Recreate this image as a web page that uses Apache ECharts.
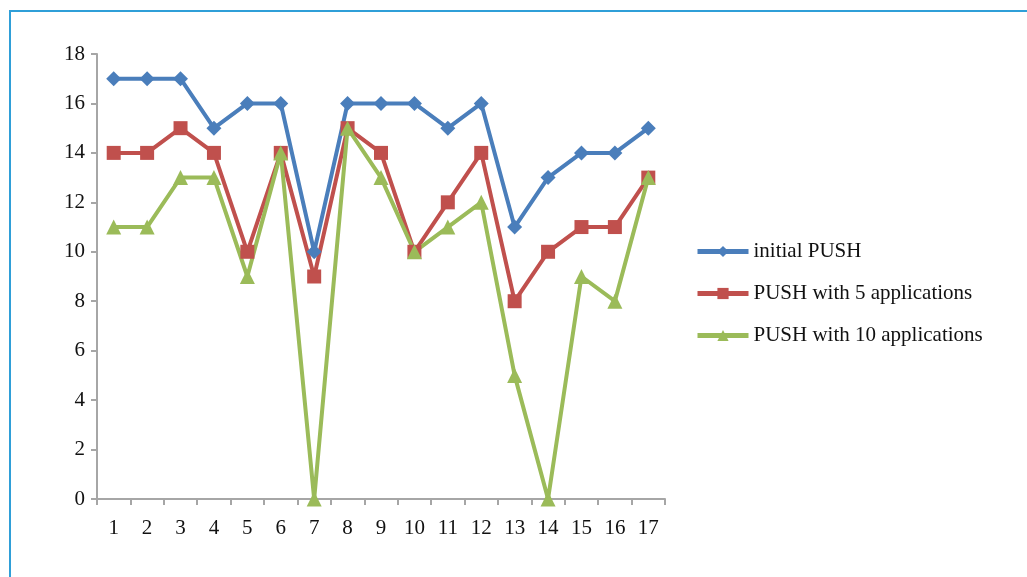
<!DOCTYPE html>
<html>
<head>
<meta charset="utf-8">
<script src="https://cdn.jsdelivr.net/npm/echarts@6/dist/echarts.min.js"></script>
<style>
  html, body { margin: 0; padding: 0; background: #fff; overflow: hidden; }
  #frame { position: absolute; left: 9px; top: 10px; width: 1100px; height: 700px;
           border-left: 2px solid #2f9fd8; border-top: 2px solid #2f9fd8; }
  #chart { position: absolute; left: 0; top: 0; width: 1027px; height: 577px; }
</style>
</head>
<body>
<div id="frame"></div>
<div id="chart"></div>
<script>
// Categories 1..17 and the three PUSH series
const categories = ['1','2','3','4','5','6','7','8','9','10','11','12','13','14','15','16','17'];
const initialPush = [17, 17, 17, 15, 16, 16, 10, 16, 16, 16, 15, 16, 11, 13, 14, 14, 15];
const push5Apps   = [14, 14, 15, 14, 10, 14, 9, 15, 14, 10, 12, 14, 8, 10, 11, 11, 13];
const push10Apps  = [11, 11, 13, 13, 9, 14, 0, 15, 13, 10, 11, 12, 5, 0, 9, 8, 13];
const seriesNames = ['initial PUSH', 'PUSH with 5 applications', 'PUSH with 10 applications'];

const font = 'Liberation Serif, Times New Roman, serif';
const axisGray = '#a6a6a6';

const chart = echarts.init(document.getElementById('chart'), null, { renderer: 'canvas' });

function lineSeries(name, data, color, symbol, size) {
  return {
    name, type: 'line', data,
    symbol, symbolSize: size,
    lineStyle: { color, width: 4 },
    itemStyle: { color },
    animation: false
  };
}

chart.setOption({
  backgroundColor: 'transparent',
  grid: { left: 97, top: 54, right: 362, bottom: 78, containLabel: false },
  legend: {
    orient: 'vertical',
    left: 695, top: 241,
    padding: 0,
    itemWidth: 51, itemHeight: 14, itemGap: 21,
    lineStyle: { width: 5 },
    textStyle: { fontFamily: font, fontSize: 21, color: '#111' },
    data: seriesNames
  },
  xAxis: {
    type: 'category',
    data: categories,
    boundaryGap: true,
    axisLine: { lineStyle: { color: axisGray, width: 2 } },
    axisTick: { show: true, length: 6, lineStyle: { color: axisGray, width: 2 } },
    axisLabel: { fontFamily: font, fontSize: 21, color: '#111', margin: 19 },
    splitLine: { show: false }
  },
  yAxis: {
    type: 'value',
    min: 0, max: 18, interval: 2,
    axisLine: { show: true, lineStyle: { color: axisGray, width: 2 } },
    axisTick: { show: true, length: 6, lineStyle: { color: axisGray, width: 2 } },
    axisLabel: { fontFamily: font, fontSize: 21, color: '#111', margin: 12 },
    splitLine: { show: false }
  },
  series: [
    lineSeries(seriesNames[0], initialPush, '#4a7ebb', 'diamond', 15),
    lineSeries(seriesNames[1], push5Apps, '#c0504d', 'rect', 14),
    lineSeries(seriesNames[2], push10Apps, '#9bbb59', 'triangle', 15)
  ]
});
</script>
</body>
</html>
